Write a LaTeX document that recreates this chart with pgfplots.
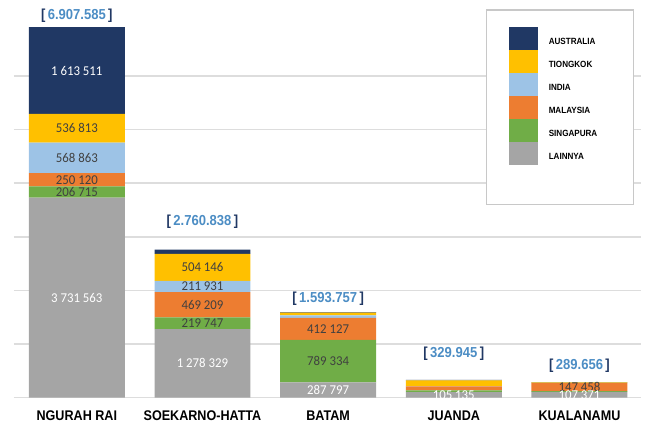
\documentclass[border=0pt]{standalone}
\usepackage{fontspec}
\setmainfont{Liberation Sans}[FakeStretch=0.9]
\newfontfamily\calfont{Carlito}[FakeStretch=0.95]
\usepackage{pgfplots}
\usepackage{pgfplotstable}
\pgfplotsset{compat=1.18}
\usetikzlibrary{calc}
\definecolor{cAus}{HTML}{203864}
\definecolor{cTio}{HTML}{FFC000}
\definecolor{cInd}{HTML}{9DC3E6}
\definecolor{cMal}{HTML}{ED7D31}
\definecolor{cSin}{HTML}{70AD47}
\definecolor{cLai}{HTML}{A5A5A5}
\definecolor{gridc}{HTML}{DDDDDD}
\definecolor{boxc}{HTML}{C8C8C8}
\definecolor{darktxt}{HTML}{404040}
\definecolor{totc}{HTML}{4C8DC4}
\definecolor{tkc}{HTML}{595959}
\newcommand{\tot}[1]{{\color{cAus}[}\,{\color{totc}#1}\,{\color{cAus}]}}

% values in millions of visits, label as printed
\pgfplotstableread[col sep=comma]{
x,v,lbl
0,3.731563,3 731 563
1,1.278329,1 278 329
2,0.287797,287 797
3,0.105135,105 135
4,0.107371,107 371
}\tLai
\pgfplotstableread[col sep=comma]{
x,v,lbl
0,0.206715,206 715
1,0.219747,219 747
2,0.789334,789 334
3,0.030,{}
4,0.015,{}
}\tSin
\pgfplotstableread[col sep=comma]{
x,v,lbl
0,0.250120,250 120
1,0.469209,469 209
2,0.412127,412 127
3,0.075,{}
4,0.147458,147 458
}\tMal
\pgfplotstableread[col sep=comma]{
x,v,lbl
0,0.568863,568 863
1,0.211931,211 931
2,0.046499,{}
3,0.005,{}
4,0.008,{}
}\tInd
\pgfplotstableread[col sep=comma]{
x,v,lbl
0,0.536813,536 813
1,0.504146,504 146
2,0.050,{}
3,0.110,{}
4,0.008,{}
}\tTio
\pgfplotstableread[col sep=comma]{
x,v,lbl
0,1.613511,1 613 511
1,0.077476,{}
2,0.008,{}
3,0.00481,{}
4,0.003827,{}
}\tAus

\begin{document}
\begin{tikzpicture}
\begin{axis}[
  name=ax, scale only axis, width=627.5pt, height=373pt,
  ybar stacked, bar width=96pt,
  xmin=-0.5, xmax=4.49, ymin=0, ymax=6.95,
  xtick={0,1,2,3,4},
  xticklabels={NGURAH RAI,SOEKARNO-HATTA,BATAM,JUANDA,KUALANAMU},
  xticklabel style={font=\bfseries\fontsize{14}{15}\selectfont, text=black, yshift=-10pt},
  ytick={0,1,2,3,4,5,6}, yticklabels={},
  ymajorgrids, grid style={draw=gridc, line width=1.4pt},
  axis line style={draw=none}, major tick length=0pt,
  clip mode=individual,
  point meta=explicit symbolic,
  nodes near coords,
  every node near coord/.append style={anchor=center,
    font=\calfont\fontsize{13.5}{14}\selectfont, text=darktxt},
  reverse legend,
  legend cell align=left,
  legend image code/.code={\fill[#1] (0pt,-8.3pt) rectangle (29pt,14.7pt);},
  legend style={at={(0.7888,0.99464)}, anchor=north west, draw=none, fill=none,
    inner sep=0pt, row sep=0pt, nodes={inner sep=0pt},
    font=\bfseries\fontsize{9}{10}\selectfont,
    /tikz/every odd column/.append style={column sep=11pt}},
]
\draw[draw=boxc, fill=white, line width=1.3pt] (rel axis cs:0.7538,0.51743) rectangle (rel axis cs:0.98805,1.04021);
\node[anchor=west, text=tkc, font=\fontsize{13.5}{14}\selectfont, inner sep=0pt] at (rel axis cs:0.78725,0.57373) {[...] Total kunjungan};

\addplot[fill=cLai, draw=none, every node near coord/.append style={text=white}] table[x=x, y=v, meta=lbl] {\tLai};
\addplot[fill=cSin, draw=none] table[x=x, y=v, meta=lbl] {\tSin};
\addplot[fill=cMal, draw=none] table[x=x, y=v, meta=lbl] {\tMal};
\addplot[fill=cInd, draw=none] table[x=x, y=v, meta=lbl] {\tInd};
\addplot[fill=cTio, draw=none] table[x=x, y=v, meta=lbl] {\tTio};
\addplot[fill=cAus, draw=none, every node near coord/.append style={text=white}] table[x=x, y=v, meta=lbl] {\tAus};
\legend{LAINNYA,SINGAPURA,MALAYSIA,INDIA,TIONGKOK,AUSTRALIA}

\node[font=\bfseries\fontsize{14.5}{15}\selectfont, inner sep=0pt] at (axis cs:0,7.13) {\tot{6.907.585}};
\node[font=\bfseries\fontsize{14.5}{15}\selectfont, inner sep=0pt] at (axis cs:1,3.28) {\tot{2.760.838}};
\node[font=\bfseries\fontsize{14.5}{15}\selectfont, inner sep=0pt] at (axis cs:2,1.84) {\tot{1.593.757}};
\node[font=\bfseries\fontsize{14.5}{15}\selectfont, inner sep=0pt] at (axis cs:3,0.82) {\tot{329.945}};
\node[font=\bfseries\fontsize{14.5}{15}\selectfont, inner sep=0pt] at (axis cs:4,0.60) {\tot{289.656}};
\end{axis}
\pgfresetboundingbox
\path ($(ax.south west)+(-14pt,-25pt)$) rectangle ($(ax.north east)+(10pt,25pt)$);
\end{tikzpicture}
\end{document}
